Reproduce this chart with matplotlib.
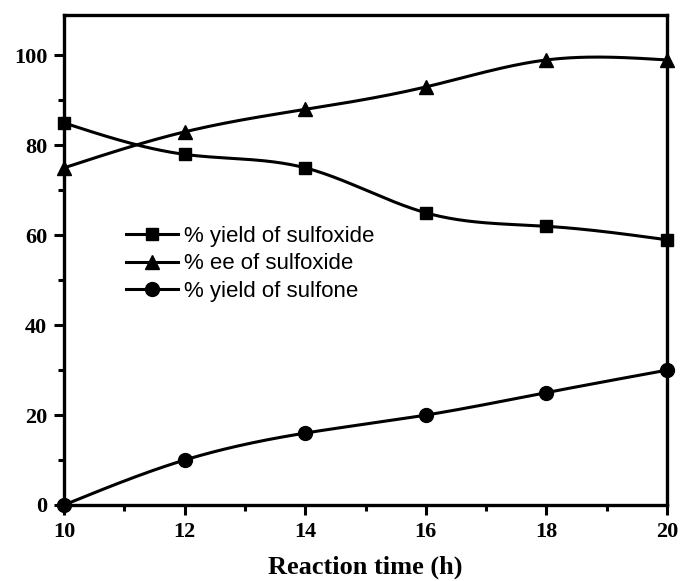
import numpy as np
import matplotlib
matplotlib.use("Agg")
from matplotlib import pyplot as plt
from matplotlib.ticker import MultipleLocator

# reaction time (h) and measured percentages
time_h = [10, 12, 14, 16, 18, 20]
yield_sulfoxide = [85, 78, 75, 65, 62, 59]
ee_sulfoxide = [75, 83, 88, 93, 99, 99]
yield_sulfone = [0, 10, 16, 20, 25, 30]


def natural_spline(x, y, n=200):
    """Natural cubic spline through (x, y), sampled on n points."""
    x = np.asarray(x, float)
    y = np.asarray(y, float)
    k = len(x)
    h = np.diff(x)
    A = np.zeros((k, k))
    b = np.zeros(k)
    A[0, 0] = A[-1, -1] = 1.0
    for i in range(1, k - 1):
        A[i, i - 1] = h[i - 1]
        A[i, i] = 2 * (h[i - 1] + h[i])
        A[i, i + 1] = h[i]
        b[i] = 6 * ((y[i + 1] - y[i]) / h[i] - (y[i] - y[i - 1]) / h[i - 1])
    m = np.linalg.solve(A, b)
    xs = np.linspace(x[0], x[-1], n)
    idx = np.clip(np.searchsorted(x, xs) - 1, 0, k - 2)
    x0, x1 = x[idx], x[idx + 1]
    hh = x1 - x0
    t0, t1 = x1 - xs, xs - x0
    ys = (m[idx] * t0**3 + m[idx + 1] * t1**3) / (6 * hh) \
        + (y[idx] / hh - m[idx] * hh / 6) * t0 \
        + (y[idx + 1] / hh - m[idx + 1] * hh / 6) * t1
    return xs, ys


plt.rcParams['font.family'] = 'Liberation Serif'
plt.rcParams['font.weight'] = 'bold'

fig = plt.figure(figsize=(6.8, 5.81), dpi=100)
ax = fig.add_axes([64 / 680, 1 - 505 / 581, 603 / 680, 490 / 581])

series = [
    (yield_sulfoxide, 's', 8.5, '% yield of sulfoxide'),
    (ee_sulfoxide, '^', 10, '% ee of sulfoxide'),
    (yield_sulfone, 'o', 10, '% yield of sulfone'),
]
for vals, mk, ms, lab in series:
    xs, ys = natural_spline(time_h, vals)
    ax.plot(xs, ys, color='black', lw=2.2, clip_on=False)
    ax.plot(time_h, vals, linestyle='none', marker=mk, ms=ms, color='black',
            clip_on=False)
    # proxy handle for the legend: line with marker
    ax.plot([], [], color='black', lw=2.2, marker=mk, ms=ms, label=lab)

ax.set_xlim(10, 20)
ax.set_ylim(0, 109)
ax.xaxis.set_major_locator(MultipleLocator(2))
ax.xaxis.set_minor_locator(MultipleLocator(1))
ax.yaxis.set_major_locator(MultipleLocator(20))
ax.yaxis.set_minor_locator(MultipleLocator(10))
ax.tick_params(which='both', direction='out', width=2.2, labelsize=16)
ax.tick_params(which='major', length=7, pad=5)
ax.tick_params(which='minor', length=4)
for sp in ax.spines.values():
    sp.set_linewidth(2.4)

ax.set_xlabel('Reaction time (h)', fontsize=19, fontweight='bold', labelpad=10)

leg = ax.legend(loc='upper left', bbox_to_anchor=(0.103, 0.57), frameon=False,
                handlelength=2.35, handletextpad=0.27, labelspacing=0.3,
                borderaxespad=0, borderpad=0,
                prop={'family': 'Liberation Sans', 'size': 16, 'weight': 'normal'})

fig.savefig('out.png', dpi=100)
